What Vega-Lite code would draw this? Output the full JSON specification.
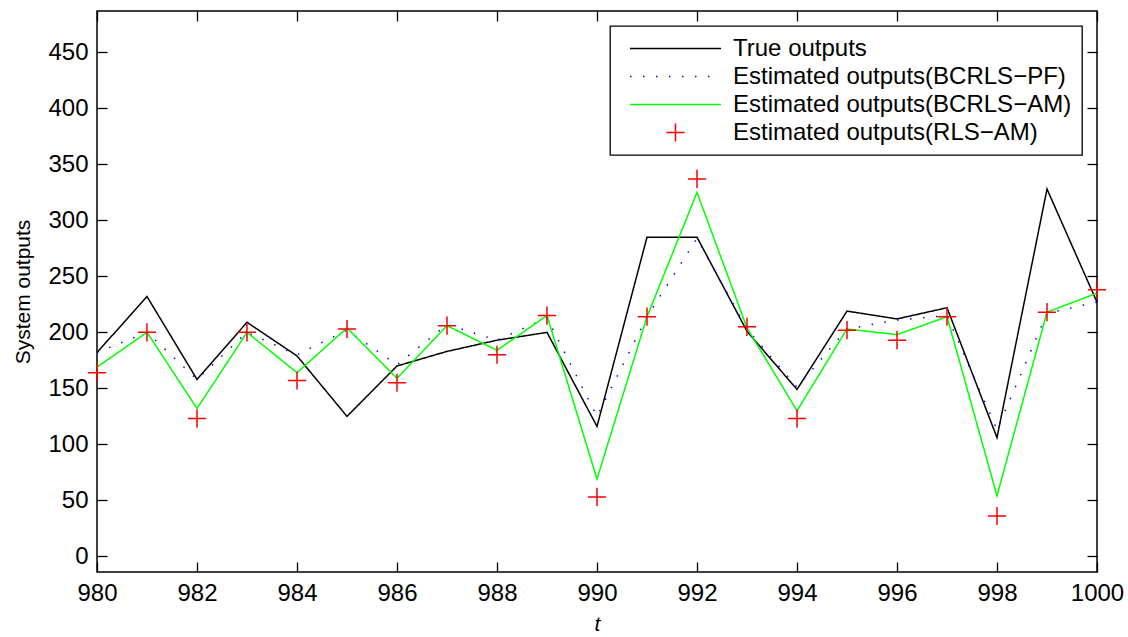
{
  "$schema": "https://vega.github.io/schema/vega-lite/v6.json",
  "width": 1000,
  "height": 561,
  "autosize": {"type": "none"},
  "padding": {"left": 97, "top": 11, "right": 31, "bottom": 65},
  "background": "white",
  "config": {
    "font": "Liberation Sans",
    "view": {"stroke": "black", "strokeWidth": 1.5},
    "axis": {
      "grid": false,
      "domain": false,
      "tickColor": "black",
      "tickWidth": 1.3,
      "tickSize": -10,
      "labelColor": "black",
      "labelFontSize": 24,
      "labelFont": "Liberation Sans",
      "titleFont": "Liberation Sans",
      "titleFontSize": 21,
      "titleFontWeight": "normal",
      "titleColor": "black"
    },
    "legend": {
      "orient": "top-right",
      "offset": 15,
      "padding": 10,
      "strokeColor": "black",
      "strokeWidth": 1.3,
      "fillColor": "white",
      "labelFontSize": 24,
      "labelFont": "Liberation Sans",
      "labelColor": "black",
      "labelOffset": 45,
      "labelLimit": 600,
      "rowPadding": 3,
      "symbolSize": 518,
      "symbolStrokeWidth": 1.5,
      "symbolOffset": 43
    }
  },
  "datasets": {
    "d": [
      {"t": 980, "series": "True outputs", "y": 182},
      {"t": 981, "series": "True outputs", "y": 232},
      {"t": 982, "series": "True outputs", "y": 158},
      {"t": 983, "series": "True outputs", "y": 209},
      {"t": 984, "series": "True outputs", "y": 179},
      {"t": 985, "series": "True outputs", "y": 125},
      {"t": 986, "series": "True outputs", "y": 170},
      {"t": 987, "series": "True outputs", "y": 183},
      {"t": 988, "series": "True outputs", "y": 193},
      {"t": 989, "series": "True outputs", "y": 200},
      {"t": 990, "series": "True outputs", "y": 116},
      {"t": 991, "series": "True outputs", "y": 285},
      {"t": 992, "series": "True outputs", "y": 285},
      {"t": 993, "series": "True outputs", "y": 201},
      {"t": 994, "series": "True outputs", "y": 149},
      {"t": 995, "series": "True outputs", "y": 219},
      {"t": 996, "series": "True outputs", "y": 212},
      {"t": 997, "series": "True outputs", "y": 222},
      {"t": 998, "series": "True outputs", "y": 106},
      {"t": 999, "series": "True outputs", "y": 328},
      {"t": 1000, "series": "True outputs", "y": 227},
      {"t": 980, "series": "Estimated outputs(BCRLS−PF)", "y": 182},
      {"t": 981, "series": "Estimated outputs(BCRLS−PF)", "y": 200},
      {"t": 982, "series": "Estimated outputs(BCRLS−PF)", "y": 158},
      {"t": 983, "series": "Estimated outputs(BCRLS−PF)", "y": 200},
      {"t": 984, "series": "Estimated outputs(BCRLS−PF)", "y": 180},
      {"t": 985, "series": "Estimated outputs(BCRLS−PF)", "y": 202},
      {"t": 986, "series": "Estimated outputs(BCRLS−PF)", "y": 171},
      {"t": 987, "series": "Estimated outputs(BCRLS−PF)", "y": 207},
      {"t": 988, "series": "Estimated outputs(BCRLS−PF)", "y": 193},
      {"t": 989, "series": "Estimated outputs(BCRLS−PF)", "y": 213},
      {"t": 990, "series": "Estimated outputs(BCRLS−PF)", "y": 125},
      {"t": 991, "series": "Estimated outputs(BCRLS−PF)", "y": 214},
      {"t": 992, "series": "Estimated outputs(BCRLS−PF)", "y": 284},
      {"t": 993, "series": "Estimated outputs(BCRLS−PF)", "y": 203},
      {"t": 994, "series": "Estimated outputs(BCRLS−PF)", "y": 151},
      {"t": 995, "series": "Estimated outputs(BCRLS−PF)", "y": 203},
      {"t": 996, "series": "Estimated outputs(BCRLS−PF)", "y": 211},
      {"t": 997, "series": "Estimated outputs(BCRLS−PF)", "y": 215},
      {"t": 998, "series": "Estimated outputs(BCRLS−PF)", "y": 113},
      {"t": 999, "series": "Estimated outputs(BCRLS−PF)", "y": 217},
      {"t": 1000, "series": "Estimated outputs(BCRLS−PF)", "y": 227},
      {"t": 980, "series": "Estimated outputs(BCRLS−AM)", "y": 169},
      {"t": 981, "series": "Estimated outputs(BCRLS−AM)", "y": 200},
      {"t": 982, "series": "Estimated outputs(BCRLS−AM)", "y": 132},
      {"t": 983, "series": "Estimated outputs(BCRLS−AM)", "y": 200},
      {"t": 984, "series": "Estimated outputs(BCRLS−AM)", "y": 164},
      {"t": 985, "series": "Estimated outputs(BCRLS−AM)", "y": 204},
      {"t": 986, "series": "Estimated outputs(BCRLS−AM)", "y": 159},
      {"t": 987, "series": "Estimated outputs(BCRLS−AM)", "y": 206},
      {"t": 988, "series": "Estimated outputs(BCRLS−AM)", "y": 184},
      {"t": 989, "series": "Estimated outputs(BCRLS−AM)", "y": 215},
      {"t": 990, "series": "Estimated outputs(BCRLS−AM)", "y": 69},
      {"t": 991, "series": "Estimated outputs(BCRLS−AM)", "y": 214},
      {"t": 992, "series": "Estimated outputs(BCRLS−AM)", "y": 325},
      {"t": 993, "series": "Estimated outputs(BCRLS−AM)", "y": 204},
      {"t": 994, "series": "Estimated outputs(BCRLS−AM)", "y": 130},
      {"t": 995, "series": "Estimated outputs(BCRLS−AM)", "y": 203},
      {"t": 996, "series": "Estimated outputs(BCRLS−AM)", "y": 198},
      {"t": 997, "series": "Estimated outputs(BCRLS−AM)", "y": 214},
      {"t": 998, "series": "Estimated outputs(BCRLS−AM)", "y": 54},
      {"t": 999, "series": "Estimated outputs(BCRLS−AM)", "y": 218},
      {"t": 1000, "series": "Estimated outputs(BCRLS−AM)", "y": 235},
      {"t": 980, "series": "Estimated outputs(RLS−AM)", "y": 164},
      {"t": 981, "series": "Estimated outputs(RLS−AM)", "y": 200},
      {"t": 982, "series": "Estimated outputs(RLS−AM)", "y": 123},
      {"t": 983, "series": "Estimated outputs(RLS−AM)", "y": 200},
      {"t": 984, "series": "Estimated outputs(RLS−AM)", "y": 157},
      {"t": 985, "series": "Estimated outputs(RLS−AM)", "y": 203},
      {"t": 986, "series": "Estimated outputs(RLS−AM)", "y": 155},
      {"t": 987, "series": "Estimated outputs(RLS−AM)", "y": 206},
      {"t": 988, "series": "Estimated outputs(RLS−AM)", "y": 180},
      {"t": 989, "series": "Estimated outputs(RLS−AM)", "y": 215},
      {"t": 990, "series": "Estimated outputs(RLS−AM)", "y": 53},
      {"t": 991, "series": "Estimated outputs(RLS−AM)", "y": 214},
      {"t": 992, "series": "Estimated outputs(RLS−AM)", "y": 337},
      {"t": 993, "series": "Estimated outputs(RLS−AM)", "y": 205},
      {"t": 994, "series": "Estimated outputs(RLS−AM)", "y": 123},
      {"t": 995, "series": "Estimated outputs(RLS−AM)", "y": 202},
      {"t": 996, "series": "Estimated outputs(RLS−AM)", "y": 193},
      {"t": 997, "series": "Estimated outputs(RLS−AM)", "y": 214},
      {"t": 998, "series": "Estimated outputs(RLS−AM)", "y": 36},
      {"t": 999, "series": "Estimated outputs(RLS−AM)", "y": 218},
      {"t": 1000, "series": "Estimated outputs(RLS−AM)", "y": 238}
    ]
  },
  "data": {"name": "d"},
  "resolve": {"axis": {"x": "independent", "y": "independent"}},
  "layer": [
    {
      "transform": [{"filter": {"field": "series", "oneOf": ["True outputs", "Estimated outputs(BCRLS−PF)", "Estimated outputs(BCRLS−AM)"]}}],
      "mark": {"type": "line", "strokeWidth": 1.5},
      "encoding": {
        "x": {
          "field": "t", "type": "quantitative",
          "scale": {"domain": [980, 1000], "nice": false, "zero": false},
          "axis": {"orient": "bottom", "values": [980, 982, 984, 986, 988, 990, 992, 994, 996, 998, 1000], "format": "d", "labelPadding": 19, "title": "t", "titleFontStyle": "italic", "titlePadding": 8, "labelFlush": false}
        },
        "y": {
          "field": "y", "type": "quantitative",
          "scale": {"domain": [-14, 487], "nice": false, "zero": false},
          "axis": {"orient": "left", "values": [0, 50, 100, 150, 200, 250, 300, 350, 400, 450], "labelPadding": 19, "title": "System outputs", "titlePadding": 14}
        },
        "color": {
          "field": "series", "type": "nominal",
          "scale": {
            "domain": ["True outputs", "Estimated outputs(BCRLS−PF)", "Estimated outputs(BCRLS−AM)", "Estimated outputs(RLS−AM)"],
            "range": ["#000000", "#0000ff", "#00ff00", "#ff0000"]
          },
          "legend": {"title": null}
        },
        "strokeDash": {
          "field": "series", "type": "nominal",
          "scale": {
            "domain": ["True outputs", "Estimated outputs(BCRLS−PF)", "Estimated outputs(BCRLS−AM)", "Estimated outputs(RLS−AM)"],
            "range": [[1, 0], [1.5, 11.5], [1, 0], [1, 0]]
          },
          "legend": {"title": null}
        }
      }
    },
    {
      "transform": [{"filter": {"field": "series", "equal": "Estimated outputs(RLS−AM)"}}],
      "mark": {"type": "point", "filled": false, "size": 518, "strokeWidth": 1.5, "opacity": 1},
      "encoding": {
        "x": {
          "field": "t", "type": "quantitative",
          "axis": {"orient": "top", "values": [980, 982, 984, 986, 988, 990, 992, 994, 996, 998, 1000], "labels": false, "title": null}
        },
        "y": {
          "field": "y", "type": "quantitative",
          "axis": {"orient": "right", "values": [0, 50, 100, 150, 200, 250, 300, 350, 400, 450], "labels": false, "title": null}
        },
        "color": {"field": "series", "type": "nominal", "legend": {"title": null}},
        "shape": {
          "field": "series", "type": "nominal",
          "scale": {
            "domain": ["True outputs", "Estimated outputs(BCRLS−PF)", "Estimated outputs(BCRLS−AM)", "Estimated outputs(RLS−AM)"],
            "range": ["M-4,0L4,0", "M-4,0L4,0", "M-4,0L4,0", "M-0.8,0L0.8,0M0,-0.8L0,0.8"]
          },
          "legend": {"title": null}
        }
      }
    }
  ]
}
